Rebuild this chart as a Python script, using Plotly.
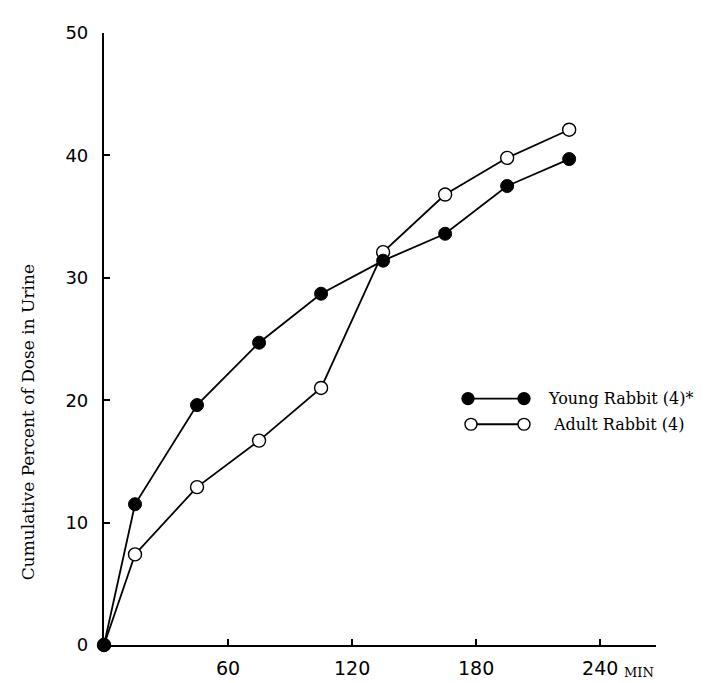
import plotly.graph_objects as go

time_min = [0, 15, 45, 75, 105, 135, 165, 195, 225]
young_rabbit = [0, 11.5, 19.6, 24.7, 28.7, 31.4, 33.6, 37.5, 39.7]
adult_rabbit = [0, 7.4, 12.9, 16.7, 21.0, 32.1, 36.8, 39.8, 42.1]
x_ticks = [60, 120, 180, 240]
y_ticks = [0, 10, 20, 30, 40, 50]
series_names = ["Young Rabbit (4)*", "Adult Rabbit (4)"]

W, H = 720, 683
L, R, T, B = 96, 72, 25, 37
XMAX = 267

def px_to_paper(px, py):
    return (px - L) / (W - L - R), (H - B - py) / (H - T - B)

fig = go.Figure()
fig.add_trace(go.Scatter(
    x=time_min, y=adult_rabbit, mode="lines+markers", name=series_names[1],
    line=dict(color="black", width=1.8),
    marker=dict(symbol="circle", size=13, color="white", line=dict(color="black", width=1.4)),
    cliponaxis=False, showlegend=False))
fig.add_trace(go.Scatter(
    x=time_min, y=young_rabbit, mode="lines+markers", name=series_names[0],
    line=dict(color="black", width=1.8),
    marker=dict(symbol="circle", size=13, color="black", line=dict(color="black", width=1)),
    cliponaxis=False, showlegend=False))

fig.update_xaxes(range=[0, XMAX], tickvals=x_ticks, ticktext=[str(v) for v in x_ticks],
                 showline=True, linecolor="black", linewidth=2.2, showgrid=False, zeroline=False,
                 ticks="inside", ticklen=6, tickwidth=1.5, tickcolor="black", ticklabelstandoff=5,
                 tickfont=dict(family="DejaVu Sans", size=19, color="black"))
fig.update_yaxes(range=[0, 50], tickvals=y_ticks, ticktext=[str(v) for v in y_ticks],
                 showline=True, linecolor="black", linewidth=2.2, showgrid=False, zeroline=False,
                 ticks="inside", ticklen=6, tickwidth=1.5, tickcolor="black", ticklabelstandoff=10,
                 tickfont=dict(family="DejaVu Sans", size=18, color="black"))

annotations = []
shapes = []
# axis unit label
ax, ay = px_to_paper(614, 674)
annotations.append(dict(x=ax, y=ay, xref="paper", yref="paper", text="MIN", showarrow=False,
                        xanchor="left", yanchor="middle",
                        font=dict(family="DejaVu Serif", size=13, color="black")))
# y axis title
tx, ty = px_to_paper(20, 420)
annotations.append(dict(x=tx, y=ty, xref="paper", yref="paper", text="Cumulative Percent of Dose in Urine",
                        showarrow=False, textangle=-90, xanchor="center", yanchor="middle",
                        font=dict(family="DejaVu Serif", size=17, color="black")))

# legend
rows = [(396, 460, 516, 538, "black", series_names[0]), (422, 463, 516, 543, "white", series_names[1])]
for py, x1, x2, txt_x, fill, name in rows:
    p1 = px_to_paper(x1, py)
    p2 = px_to_paper(x2, py)
    shapes.append(dict(type="line", xref="paper", yref="paper", x0=p1[0], x1=p2[0], y0=p1[1], y1=p1[1],
                       line=dict(color="black", width=1.8)))
    r = 6
    for cx in (x1, x2):
        a = px_to_paper(cx - r, py + r)
        b = px_to_paper(cx + r, py - r)
        shapes.append(dict(type="circle", xref="paper", yref="paper", x0=a[0], y0=a[1], x1=b[0], y1=b[1],
                           fillcolor=fill, line=dict(color="black", width=1.4)))
    tp = px_to_paper(txt_x, py)
    annotations.append(dict(x=tp[0], y=tp[1], xref="paper", yref="paper", text=name, showarrow=False,
                            xanchor="left", yanchor="middle",
                            font=dict(family="DejaVu Serif", size=16, color="black")))

fig.update_layout(width=W, height=H, margin=dict(l=L, r=R, t=T, b=B, pad=0),
                  plot_bgcolor="white", paper_bgcolor="white",
                  annotations=annotations, shapes=shapes, showlegend=False)

fig.write_html("out.html")
